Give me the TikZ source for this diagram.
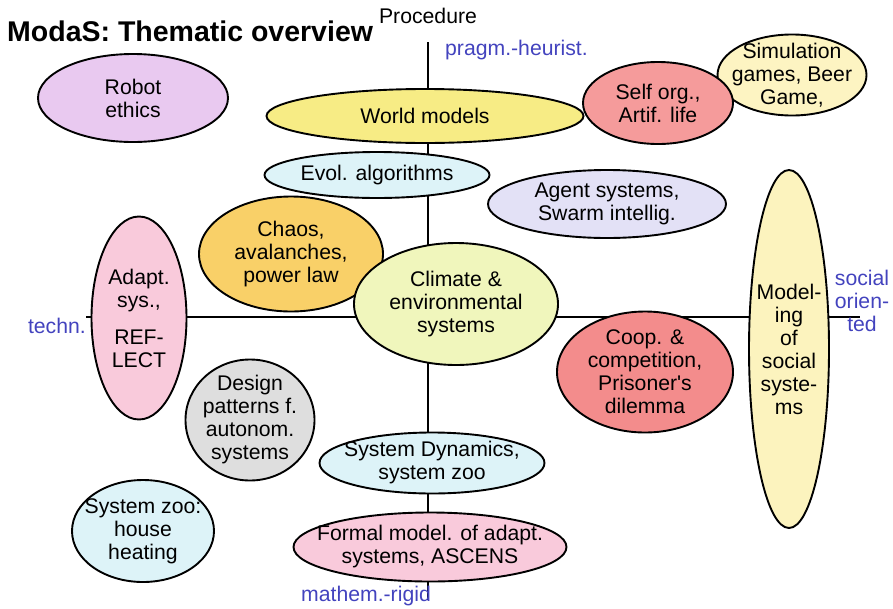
\documentclass[tikz,border=0pt]{standalone}
\usepackage{fontspec}
\setmainfont{Liberation Sans}
\usepackage{xcolor}
\usepackage{tikz}
\usetikzlibrary{shapes.geometric}
\definecolor{robotfill}{HTML}{E9C9F0}
\definecolor{worldfill}{HTML}{F7EC85}
\definecolor{selforgfill}{HTML}{F59B9B}
\definecolor{simfill}{HTML}{FDF4C2}
\definecolor{cyanfill}{HTML}{DDF3F8}
\definecolor{agentfill}{HTML}{E3E1F6}
\definecolor{chaosfill}{HTML}{F9D068}
\definecolor{pinkfill}{HTML}{F9CADB}
\definecolor{climatefill}{HTML}{F0F6BC}
\definecolor{coopfill}{HTML}{F38C8C}
\definecolor{socfill}{HTML}{FCF3BE}
\definecolor{designfill}{HTML}{DEDEDE}
\definecolor{axisblue}{HTML}{4343BE}

\tikzset{
  bubble/.style={ellipse, draw=black, line width=1.9pt, inner xsep=-20pt, inner ysep=-10pt,
    align=center, font=\fontsize{21.2}{23}\selectfont},
  axis/.style={line width=1.8pt},
  axislabel/.style={text=axisblue, inner sep=0pt, font=\fontsize{21.2}{23}\selectfont},
}

\begin{document}
\begin{tikzpicture}[x=1pt, y=-1pt]
  \useasboundingbox (0,0) rectangle (893,608);
  % axes
  \coordinate (ptop) at (428,42);
  \coordinate (pbot) at (428,600);
  \coordinate (tleft) at (86,317);
  \coordinate (sright) at (860,317);
  \draw[axis] (ptop) -- (pbot);
  \draw[axis] (tleft) -- (sright);
  \node[font=\bfseries\fontsize{28.5}{32}\selectfont, anchor=west, inner sep=0pt] (title) at (7,31) {ModaS: Thematic overview};
  \node[inner sep=0pt, font=\fontsize{21.2}{23}\selectfont] (proc) at (428,16) {Procedure};
  \node[axislabel, anchor=west] (pragm) at (445,50) {pragm.-heurist.};
  \node[axislabel, anchor=east] (techn) at (86,326) {techn.};
  \node[axislabel, align=center] (social) at (862,301) {social\\orien-\\ted};
  \node[axislabel, anchor=east] (mathem) at (431,596) {mathem.-rigid};
  % topics
  \node[bubble, fill=robotfill, minimum width=190, minimum height=88] (robot) at (133,98) {Robot\\ethics};
  \node[bubble, fill=worldfill, minimum width=317, minimum height=54] (world) at (425,116) {World models};
  \node[bubble, fill=simfill, minimum width=149, minimum height=81] (sim) at (792,75) {Simulation\\games, Beer\\Game,};
  \node[bubble, fill=selforgfill, minimum width=150, minimum height=82] (selforg) at (658,103) {Self org.,\\Artif. life};
  \node[bubble, fill=cyanfill, minimum width=225, minimum height=46] (evol) at (377,175) {Evol. algorithms};
  \node[bubble, fill=agentfill, minimum width=238, minimum height=68] (agent) at (607,204) {Agent systems,\\Swarm intellig.};
  \node[bubble, fill=chaosfill, minimum width=184, minimum height=115] (chaos) at (291,254) {Chaos,\\avalanches,\\power law};
  \node[bubble, fill=climatefill, minimum width=204, minimum height=122] (climate) at (456,304) {Climate \&\\environmental\\systems};
  \node[bubble, fill=pinkfill, minimum width=95, minimum height=203] (adapt) at (139,318) {Adapt.\\sys.,\\[14pt]REF-\\LECT};
  \node[bubble, fill=coopfill, minimum width=176, minimum height=121] (coop) at (645,372) {Coop. \&\\competition,\\Prisoner\textquotesingle s\\dilemma};
  \node[bubble, fill=socfill, minimum width=80, minimum height=358] (modsoc) at (789,349) {Model-\\ing\\of\\social\\syste-\\ms};
  \node[bubble, fill=designfill, minimum width=129, minimum height=121] (design) at (250,420) {Design\\patterns f.\\autonom.\\systems};
  \node[bubble, fill=cyanfill, minimum width=225, minimum height=61] (sysdyn) at (432,463) {System Dynamics,\\system zoo};
  \node[bubble, fill=cyanfill, minimum width=142, minimum height=102] (syszoo) at (143,531) {System zoo:\\house\\heating};
  \node[bubble, fill=pinkfill, minimum width=273, minimum height=69] (formal) at (430,547) {Formal model. of adapt.\\systems, ASCENS};
\end{tikzpicture}
\end{document}
